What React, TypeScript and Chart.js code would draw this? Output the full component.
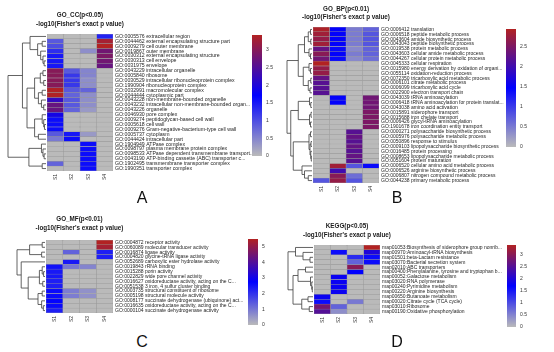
import React, { useEffect, useRef } from "react";
import { Chart, registerables } from "chart.js";
Chart.register(...registerables);

const FONT = '"Liberation Sans", Arial, sans-serif';
const columnNames = ["S1", "S2", "S3", "S4"];

// ---------- GO_CC ----------
const ccTerms = [
  "GO:0005576 extracellular region",
  "GO:0044462 external encapsulating structure part",
  "GO:0009279 cell outer membrane",
  "GO:0019867 outer membrane",
  "GO:0030312 external encapsulating structure",
  "GO:0030313 cell envelope",
  "GO:0031975 envelope",
  "GO:0043229 intracellular organelle",
  "GO:0005840 ribosome",
  "GO:0030529 intracellular ribonucleoprotein complex",
  "GO:1990904 ribonucleoprotein complex",
  "GO:0032991 macromolecular complex",
  "GO:0044444 cytoplasmic part",
  "GO:0043228 non-membrane-bounded organelle",
  "GO:0043232 intracellular non-membrane-bounded organ...",
  "GO:0043226 organelle",
  "GO:0046930 pore complex",
  "GO:0009274 peptidoglycan-based cell wall",
  "GO:0005618 cell wall",
  "GO:0009276 Gram-negative-bacterium-type cell wall",
  "GO:0005737 cytoplasm",
  "GO:0044424 intracellular part",
  "GO:1904949 ATPase complex",
  "GO:0098797 plasma membrane protein complex",
  "GO:0098533 ATPase dependent transmembrane transport...",
  "GO:0043190 ATP-binding cassette (ABC) transporter c...",
  "GO:1902495 transmembrane transporter complex",
  "GO:1990351 transporter complex",
];
const ccCol1 = [0, 0.9, 1.0, 1.3, 1.5, 1.5, 1.5, 3.0, 3.0, 3.0, 3.0, 3.4, 3.4, 2.2, 2.7, 2.7, 1.9, 1.6, 1.6, 1.6, 0.9, 0.6, 0, 0, 0, 0, 0.8, 0];
const ccCol2 = [0, 0, 0, 0, 0, 0, 0, 0.9, 1.2, 1.2, 1.2, 0.9, 0.8, 0.9, 0.9, 0.8, 0, 0, 0, 0, 1.5, 1.6, 0, 0, 0, 0, 0, 0];
const ccCol3 = [0, 0, 0, 0.4, 0, 0, 0, 0.5, 0.5, 0.4, 0.4, 0.8, 0.4, 0.4, 0.4, 0.3, 0, 0, 0, 0, 0.3, 0, 1.6, 1.6, 1.6, 1.6, 1.6, 1.6];
const ccCol4 = [1.4, 3.3, 3.42, 2.8, 2.9, 2.8, 2.7, 0, 0, 0, 0, 0, 0, 0, 0, 0, 0, 0, 0, 0, 0, 0, 0, 0, 0, 0, 0, 0];
const ccMax = 3.42;
const ccTree: any = [1,
  [0.62,
    [0.42, 0, [0.22, [0.1, 1, 2], [0.14, 3, [0.08, 4, [0.05, 5, 6]]]]],
    [0.5,
      [0.3, [0.15, [0.08, 7, 8], [0.06, 9, 10]], [0.2, [0.1, 11, 12], [0.12, 13, [0.06, 14, 15]]]],
      [0.3, [0.1, 16, [0.06, 17, [0.04, 18, 19]]], [0.2, 20, 21]]]],
  [0.45, [0.12, 22, [0.08, 23, [0.05, 24, 25]]], [0.1, 26, 27]]];

// ---------- GO_BP ----------
const bpTerms = [
  "GO:0006412 translation",
  "GO:0006518 peptide metabolic process",
  "GO:0043604 amide biosynthetic process",
  "GO:0043043 peptide biosynthetic process",
  "GO:0019538 protein metabolic process",
  "GO:0043603 cellular amide metabolic process",
  "GO:0044267 cellular protein metabolic process",
  "GO:0045333 cellular respiration",
  "GO:0015980 energy derivation by oxidation of organi...",
  "GO:0055114 oxidation-reduction process",
  "GO:0072350 tricarboxylic acid metabolic process",
  "GO:0006101 citrate metabolic process",
  "GO:0006099 tricarboxylic acid cycle",
  "GO:0022900 electron transport chain",
  "GO:0043039 tRNA aminoacylation",
  "GO:0006418 tRNA aminoacylation for protein translat...",
  "GO:0043038 amino acid activation",
  "GO:0015891 siderophore transport",
  "GO:0015688 iron chelate transport",
  "GO:0006426 glycyl-tRNA aminoacylation",
  "GO:1901678 iron coordination entity transport",
  "GO:0000271 polysaccharide biosynthetic process",
  "GO:0005976 polysaccharide metabolic process",
  "GO:0050896 response to stimulus",
  "GO:0009103 lipopolysaccharide biosynthetic process",
  "GO:0016485 protein processing",
  "GO:0008653 lipopolysaccharide metabolic process",
  "GO:0051604 protein maturation",
  "GO:0006520 cellular amino acid metabolic process",
  "GO:0006526 arginine biosynthetic process",
  "GO:0006807 nitrogen compound metabolic process",
  "GO:0044238 primary metabolic process",
];
const bpCol1 = [2.9, 2.8, 2.7, 2.8, 2.3, 2.6, 2.4, 2.95, 2.7, 2.7, 2.3, 2.2, 2.2, 2.2, 0, 0, 0, 0, 0, 0, 0, 0, 0, 0, 0, 0, 0, 0, 0, 0, 0, 0.8];
const bpCol2 = [1.5, 1.5, 1.5, 1.5, 1.4, 1.5, 1.4, 0, 0, 0, 0, 0, 0, 0, 1.5, 1.5, 0, 0, 0, 0, 0, 0, 0, 0, 0, 0, 0, 0, 2.8, 2.0, 2.6, 2.7];
const bpCol3 = [0.5, 0.5, 0.5, 0.5, 0.4, 0.5, 0.4, 0, 0, 0, 0, 0, 0, 0, 0, 0, 0, 0, 0, 0, 0, 2.2, 2.3, 2.2, 2.3, 2.2, 2.3, 2.2, 0.8, 0, 0.6, 0.8];
const bpCol4 = [0.7, 0.8, 0.8, 0.8, 0.7, 0.7, 0.6, 0, 0, 0, 0, 0, 0, 0, 2.4, 2.4, 2.4, 2.5, 2.5, 2.5, 2.5, 0, 0, 0, 0, 0, 0, 0, 1.4, 0, 0, 0];
const bpMax = 2.95;
const bpTree: any = [1,
  [0.55,
    [0.3, [0.15, [0.06, 0, 1], [0.05, 2, 3]], [0.12, 4, [0.06, 5, 6]]],
    [0.35, [0.12, 7, [0.06, 8, 9]], [0.15, [0.05, 10, 11], [0.08, 12, 13]]]],
  [0.85,
    [0.55, [0.1, 14, [0.05, 15, 16]], [0.1, [0.04, 17, 18], [0.06, 19, 20]]],
    [0.75,
      [0.12, [0.06, 21, 22], [0.08, [0.04, 23, 24], [0.05, 25, [0.03, 26, 27]]]],
      [0.4, 28, [0.3, 29, [0.15, 30, 31]]]]]];

// ---------- GO_MF ----------
const mfTerms = [
  "GO:0004872 receptor activity",
  "GO:0060089 molecular transducer activity",
  "GO:0016874 ligase activity",
  "GO:0004820 glycine-tRNA ligase activity",
  "GO:0052689 carboxylic ester hydrolase activity",
  "GO:0019843 rRNA binding",
  "GO:0015288 porin activity",
  "GO:0022829 wide pore channel activity",
  "GO:0016627 oxidoreductase activity, acting on the C...",
  "GO:0051538 3 iron, 4 sulfur cluster binding",
  "GO:0003735 structural constituent of ribosome",
  "GO:0005198 structural molecule activity",
  "GO:0008177 succinate dehydrogenase (ubiquinone) act...",
  "GO:0016635 oxidoreductase activity, acting on the C...",
  "GO:0000104 succinate dehydrogenase activity",
];
const mfCol1 = [0, 0, 0, 0, 0, 2.5, 2.4, 2.4, 2.3, 2.3, 2.6, 2.6, 2.7, 2.6, 2.3];
const mfCol2 = [0, 0, 1.3, 0, 2.4, 1.0, 0, 0, 0, 0, 0.9, 0.9, 0, 0, 0];
const mfCol3 = [0, 0, 0, 0, 0, 0.8, 0, 0, 0, 0, 0.6, 0.6, 0, 0, 0];
const mfCol4 = [5.5, 5.3, 2.3, 2.3, 0, 0, 0, 0, 0, 0, 0, 0, 0, 0, 0];
const mfMax = 5.5;
const mfTree: any = [1,
  [0.55, [0.1, 0, 1], [0.12, 2, 3]],
  [0.85, 4,
    [0.6,
      [0.2, [0.1, 5, [0.05, 6, 7]], [0.08, 8, 9]],
      [0.25, [0.1, 10, 11], [0.12, 12, [0.06, 13, 14]]]]]];

// ---------- KEGG ----------
const keggTerms = [
  "map01053:Biosynthesis of siderophore group nonrib...",
  "map00970:Aminoacyl-tRNA biosynthesis",
  "map01501:beta-Lactam resistance",
  "map03070:Bacterial secretion system",
  "map02010:ABC transporters",
  "map00400:Phenylalanine, tyrosine and tryptophan b...",
  "map00052:Galactose metabolism",
  "map03020:RNA polymerase",
  "map00240:Pyrimidine metabolism",
  "map00220:Arginine biosynthesis",
  "map00650:Butanoate metabolism",
  "map00020:Citrate cycle (TCA cycle)",
  "map03010:Ribosome",
  "map00190:Oxidative phosphorylation",
];
const keggCol1 = [0, 0, 0, 0, 0, 0, 0, 0, 0, 0, 1.8, 1.6, 2.8, 2.5];
const keggCol2 = [0, 1.6, 0, 0, 0, 0, 1.8, 1.8, 1.8, 1.8, 0, 0, 0.8, 0.4];
const keggCol3 = [0, 0, 1.3, 0.8, 3.0, 1.7, 0, 0, 0, 0, 0, 0.6, 0, 0];
const keggCol4 = [3.4, 2.0, 1.6, 1.6, 0, 0, 0, 0, 0, 0, 0, 0, 0, 0];
const keggMax = 3.4;
const keggTree: any = [1,
  [0.7, 0, [0.4, 1, [0.12, 2, 3]]],
  [0.8,
    [0.6, [0.3, 4, 5], [0.1, 6, [0.05, 7, [0.03, 8, 9]]]],
    [0.45, [0.2, 10, 11], [0.15, 12, 13]]]];

// ---------- colours ----------
const GRAY = [186, 186, 186];
const BLUE = [0, 0, 255];
const RED = [178, 34, 34];
function mix(a: number[], b: number[], u: number) {
  return `rgb(${a.map((x, i) => Math.round(x + (b[i] - x) * u)).join(",")})`;
}
function heatColor(v: number, max: number) {
  const t = Math.max(0, Math.min(1, v / max));
  return t < 0.5 ? mix(GRAY, BLUE, t * 2) : mix(BLUE, RED, (t - 0.5) * 2);
}

type HeatProps = {
  box: { x: number; y: number; w: number; h: number };
  padLeft: number;
  padTop: number;
  yAxisW: number;
  xAxisH: number;
  terms: string[];
  cols: number[][];
  max: number;
  tree: any;
  dendroW: number;
  titles: string[];
  titleY: number[];
  labelSize: number;
};

function Heatmap(p: HeatProps) {
  const ref = useRef<HTMLCanvasElement>(null);
  useEffect(() => {
    const datasets = p.cols.map((vals, j) => ({
      data: vals.map(() => [j, j + 1]),
      backgroundColor: vals.map((v) => heatColor(v, p.max)),
      borderColor: "#999999",
      borderWidth: 0.5,
      borderSkipped: false,
      barPercentage: 1,
      categoryPercentage: 1,
      grouped: false,
    }));
    const chart = new Chart(ref.current as HTMLCanvasElement, {
      type: "bar",
      data: { labels: p.terms, datasets: datasets as any },
      options: {
        indexAxis: "y",
        responsive: false,
        animation: false,
        devicePixelRatio: 1,
        layout: { padding: { left: p.padLeft, top: p.padTop, right: 0, bottom: 0 } },
        plugins: { legend: { display: false }, tooltip: { enabled: false }, title: { display: false } },
        scales: {
          x: {
            type: "linear",
            min: 0,
            max: 4,
            position: "bottom",
            grid: { display: false, drawTicks: false },
            border: { display: false },
            afterBuildTicks: (s: any) => {
              s.ticks = [0.5, 1.5, 2.5, 3.5].map((v) => ({ value: v }));
            },
            afterFit: (s: any) => {
              s.height = p.xAxisH;
            },
            ticks: {
              autoSkip: false,
              minRotation: 90,
              maxRotation: 90,
              padding: 3,
              color: "#333",
              font: { family: FONT, size: 5 },
              callback: (_v: any, i: number) => columnNames[i],
            },
          },
          y: {
            type: "category",
            position: "right",
            grid: { display: false, drawTicks: false },
            border: { display: false },
            afterFit: (s: any) => {
              s.width = p.yAxisW;
            },
            ticks: {
              autoSkip: false,
              padding: 2,
              color: "#1e1e1e",
              font: { family: FONT, size: p.labelSize },
            },
          },
        },
      },
      plugins: [
        {
          id: "dendroTitle",
          afterDraw(c: any) {
            const ctx = c.ctx;
            const ys = c.scales.y;
            const area = c.chartArea;
            const left = area.left - 1;
            ctx.save();
            ctx.strokeStyle = "#3c3c3c";
            ctx.lineWidth = 0.8;
            const walk = (n: any): { x: number; y: number } => {
              if (typeof n === "number") return { x: left, y: ys.getPixelForValue(n) };
              const [h, a, b] = n;
              const pa = walk(a);
              const pb = walk(b);
              const x = left - h * p.dendroW;
              ctx.beginPath();
              ctx.moveTo(pa.x, pa.y);
              ctx.lineTo(x, pa.y);
              ctx.lineTo(x, pb.y);
              ctx.lineTo(pb.x, pb.y);
              ctx.stroke();
              return { x, y: (pa.y + pb.y) / 2 };
            };
            walk(p.tree);
            ctx.fillStyle = "#1a1a1a";
            ctx.font = `bold 6.3px ${FONT}`;
            ctx.textAlign = "center";
            ctx.textBaseline = "middle";
            const cx = (area.left + area.right) / 2;
            p.titles.forEach((t, i) => ctx.fillText(t, cx, area.top + p.titleY[i]));
            ctx.restore();
          },
        },
      ],
    });
    return () => chart.destroy();
  }, []);
  return (
    <canvas
      ref={ref}
      width={p.box.w}
      height={p.box.h}
      style={{ position: "absolute", left: p.box.x, top: p.box.y, width: p.box.w, height: p.box.h }}
    />
  );
}

type BarProps = {
  box: { x: number; y: number; w: number; h: number };
  barW: number;
  max: number;
  step: number;
};

function ColorBar(p: BarProps) {
  const ref = useRef<HTMLCanvasElement>(null);
  useEffect(() => {
    const chart = new Chart(ref.current as HTMLCanvasElement, {
      type: "bar",
      data: {
        labels: ["scale"],
        datasets: [
          {
            data: [p.max],
            barPercentage: 1,
            categoryPercentage: 1,
            borderWidth: 0,
            backgroundColor: (ctx: any) => {
              const a = ctx.chart.chartArea;
              if (!a) return "#bababa";
              const g = ctx.chart.ctx.createLinearGradient(0, a.bottom, 0, a.top);
              g.addColorStop(0, mix(GRAY, GRAY, 0));
              g.addColorStop(0.5, mix(BLUE, BLUE, 0));
              g.addColorStop(1, mix(RED, RED, 0));
              return g;
            },
          },
        ],
      },
      options: {
        responsive: false,
        animation: false,
        devicePixelRatio: 1,
        layout: { padding: { left: 2, top: 6, right: 0, bottom: 6 } },
        plugins: { legend: { display: false }, tooltip: { enabled: false } },
        scales: {
          x: { display: false },
          y: {
            position: "right",
            min: 0,
            max: p.max,
            grid: { display: false, drawTicks: false },
            border: { display: false },
            afterFit: (s: any) => {
              s.width = p.box.w - 2 - p.barW;
            },
            ticks: {
              stepSize: p.step,
              includeBounds: false,
              padding: 4,
              color: "#333",
              font: { family: FONT, size: 5 },
              callback: (v: any) => String(Math.round(Number(v) * 10) / 10),
            },
          },
        },
      },
    });
    return () => chart.destroy();
  }, []);
  return (
    <canvas
      ref={ref}
      width={p.box.w}
      height={p.box.h}
      style={{ position: "absolute", left: p.box.x, top: p.box.y, width: p.box.w, height: p.box.h }}
    />
  );
}

const letterStyle = (x: number, y: number): React.CSSProperties => ({
  position: "absolute",
  left: x,
  top: y,
  transform: "translate(-50%, -50%)",
  fontFamily: FONT,
  fontSize: 16,
  color: "#111",
  lineHeight: 1,
});

export default function App() {
  const sub = "-log10(Fisher's exact p value)";
  return (
    <div style={{ position: "fixed", left: 0, top: 0, width: 554, height: 352, background: "#fff", overflow: "hidden" }}>
      <Heatmap
        box={{ x: 0, y: 0, w: 252, h: 188 }}
        padLeft={47}
        padTop={34}
        yAxisW={139}
        xAxisH={17}
        terms={ccTerms}
        cols={[ccCol1, ccCol2, ccCol3, ccCol4]}
        max={ccMax}
        tree={ccTree}
        dendroW={38}
        titles={["GO_CC(p<0.05)", sub]}
        titleY={[-19, -9.5]}
        labelSize={5.2}
      />
      <ColorBar box={{ x: 250, y: 28, w: 30, h: 135 }} barW={10} max={ccMax} step={0.5} />

      <Heatmap
        box={{ x: 277, y: 0, w: 228, h: 196 }}
        padLeft={36}
        padTop={27}
        yAxisW={126}
        xAxisH={13}
        terms={bpTerms}
        cols={[bpCol1, bpCol2, bpCol3, bpCol4]}
        max={bpMax}
        tree={bpTree}
        dendroW={25}
        titles={["GO_BP(p<0.01)", sub]}
        titleY={[-18, -9.5]}
        labelSize={5}
      />
      <ColorBar box={{ x: 504, y: 22, w: 32, h: 132 }} barW={10} max={bpMax} step={0.5} />

      <Heatmap
        box={{ x: 0, y: 205, w: 248, h: 125 }}
        padLeft={46}
        padTop={35}
        yAxisW={135}
        xAxisH={17}
        terms={mfTerms}
        cols={[mfCol1, mfCol2, mfCol3, mfCol4]}
        max={mfMax}
        tree={mfTree}
        dendroW={28}
        titles={["GO_MF(p<0.01)", sub]}
        titleY={[-20.5, -12]}
        labelSize={5}
      />
      <ColorBar box={{ x: 246, y: 232, w: 30, h: 100 }} barW={10} max={mfMax} step={1} />

      <Heatmap
        box={{ x: 277, y: 212, w: 230, h: 120 }}
        padLeft={37}
        padTop={33}
        yAxisW={127}
        xAxisH={18}
        terms={keggTerms}
        cols={[keggCol1, keggCol2, keggCol3, keggCol4]}
        max={keggMax}
        tree={keggTree}
        dendroW={25}
        titles={["KEGG(p<0.05)", sub]}
        titleY={[-19, -10]}
        labelSize={5}
      />
      <ColorBar box={{ x: 505, y: 238, w: 32, h: 96 }} barW={9} max={keggMax} step={0.5} />

      <div style={letterStyle(142, 198)}>A</div>
      <div style={letterStyle(397, 198)}>B</div>
      <div style={letterStyle(142, 342)}>C</div>
      <div style={letterStyle(397, 342)}>D</div>
    </div>
  );
}
